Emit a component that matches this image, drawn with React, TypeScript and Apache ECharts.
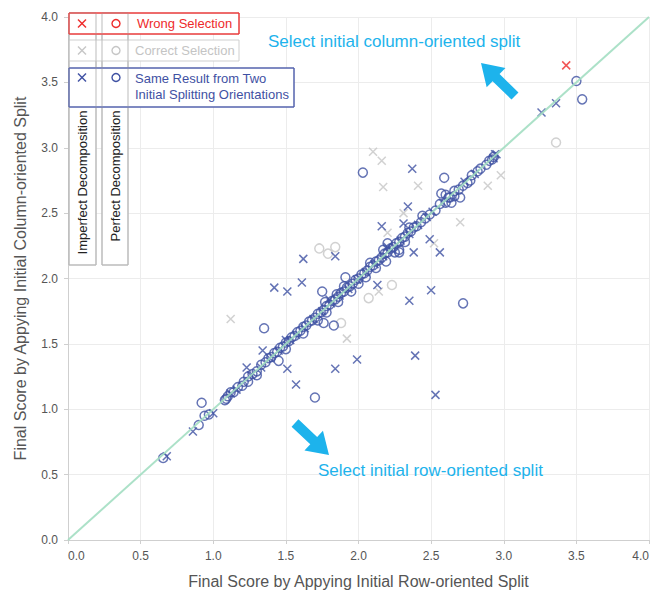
import React, { useEffect, useRef } from "react";
import * as echarts from "echarts";

// ---- Data ----
const xTicks = [0, 0.5, 1, 1.5, 2, 2.5, 3, 3.5, 4];
const diagonal = [[0, 0], [4, 4]];

// Wrong selection (red)
const wrongImperfect = [[3.43, 3.63]];
const wrongPerfect: number[][] = [];

// Correct selection (gray)
const correctImperfect = [
  [2.10, 2.97], [2.16, 2.90], [2.17, 2.70], [2.41, 2.71], [2.89, 2.71], [2.98, 2.79],
  [2.70, 2.43], [2.31, 2.50], [2.20, 2.35], [2.52, 2.27], [1.12, 1.69], [1.92, 1.54], [2.14, 1.90],
];
const correctPerfect = [
  [3.36, 3.04], [1.73, 2.23], [1.79, 2.19], [1.84, 2.24], [2.23, 1.95], [2.07, 1.85], [1.88, 1.66],
];

// Same result (blue)
const sameImperfect = [
  [3.36, 3.34], [3.26, 3.27], [2.95, 2.95], [2.93, 2.92], [2.37, 2.84], [2.34, 2.55],
  [2.31, 2.42], [2.16, 2.40], [2.49, 2.30], [2.56, 2.20], [2.38, 2.20], [1.62, 2.15],
  [1.84, 2.17], [1.42, 1.93], [1.51, 1.90], [1.61, 1.97], [2.13, 1.95], [2.50, 1.91],
  [2.35, 1.83], [1.34, 1.45], [1.23, 1.32], [1.51, 1.31], [1.57, 1.19], [1.84, 1.31],
  [1.99, 1.38], [2.39, 1.41], [2.53, 1.11],
  [1.12, 1.12], [1.16, 1.15], [1.26, 1.26], [1.33, 1.32], [1.39, 1.39], [1.45, 1.45],
  [1.53, 1.53], [1.57, 1.57], [1.63, 1.62], [1.69, 1.69], [1.75, 1.75], [1.81, 1.81],
  [1.87, 1.87], [1.93, 1.92], [1.99, 1.99], [2.05, 2.05], [2.11, 2.11], [2.17, 2.17],
  [2.23, 2.22], [2.29, 2.29], [2.35, 2.34], [2.41, 2.41], [2.47, 2.47], [2.51, 2.51],
  [2.58, 2.58], [2.73, 2.74], [2.80, 2.80], [2.94, 2.95], [1.00, 0.97], [0.86, 0.83],
  [0.68, 0.64], [1.50, 1.53], [1.80, 1.84], [2.20, 2.24],
];
const samePerfect = [
  [3.50, 3.51], [3.54, 3.37], [2.03, 2.81], [2.59, 2.77], [2.57, 2.65], [2.64, 2.58],
  [2.70, 2.62], [2.72, 1.81], [1.35, 1.62], [1.70, 1.09], [0.92, 1.05], [1.91, 2.01],
  [1.75, 1.90], [1.77, 1.82], [1.83, 1.64], [1.76, 1.66], [2.20, 2.27], [2.28, 2.22],
  [2.28, 2.20], [2.19, 2.13], [1.45, 1.37], [1.20, 1.18], [0.655, 0.627], [0.90, 0.88],
  [0.94, 0.95], [0.97, 0.96], [1.08, 1.07], [1.09, 1.08],
  [1.10, 1.10], [1.12, 1.13], [1.14, 1.13], [1.17, 1.17], [1.21, 1.21], [1.24, 1.25],
  [1.27, 1.27], [1.30, 1.29], [1.33, 1.34], [1.36, 1.36], [1.38, 1.39], [1.40, 1.40],
  [1.42, 1.43], [1.44, 1.44], [1.46, 1.47], [1.48, 1.48], [1.50, 1.51], [1.52, 1.52],
  [1.54, 1.55], [1.56, 1.56], [1.58, 1.59], [1.60, 1.60], [1.62, 1.63], [1.64, 1.64],
  [1.66, 1.67], [1.68, 1.68], [1.70, 1.70], [1.72, 1.73], [1.74, 1.74], [1.76, 1.76],
  [1.78, 1.79], [1.80, 1.80], [1.82, 1.83], [1.84, 1.84], [1.86, 1.86], [1.88, 1.89],
  [1.90, 1.90], [1.92, 1.93], [1.94, 1.94], [1.96, 1.96], [1.98, 1.99], [2.00, 2.00],
  [2.02, 2.03], [2.04, 2.04], [2.06, 2.06], [2.08, 2.09], [2.10, 2.10], [2.12, 2.13],
  [2.14, 2.14], [2.16, 2.16], [2.18, 2.19], [2.20, 2.20], [2.22, 2.23], [2.24, 2.24],
  [2.26, 2.27], [2.28, 2.28], [2.30, 2.31], [2.32, 2.32], [2.34, 2.35], [2.36, 2.36],
  [2.38, 2.39], [2.40, 2.40], [2.43, 2.43], [2.46, 2.46], [2.49, 2.49], [2.53, 2.52],
  [2.56, 2.57], [2.62, 2.62], [2.66, 2.67], [2.72, 2.71], [2.78, 2.79], [2.84, 2.84],
  [2.90, 2.90], [2.92, 2.91], [2.93, 2.93],
  [1.78, 1.74], [1.86, 1.82], [1.95, 1.90], [2.00, 1.96], [2.05, 2.01], [2.12, 2.08],
  [2.25, 2.20], [2.32, 2.28], [1.62, 1.58], [1.50, 1.46], [1.72, 1.68], [1.85, 1.88],
  [1.90, 1.94], [2.08, 2.12], [2.17, 2.22], [2.35, 2.39], [2.44, 2.48], [1.30, 1.26],
  [1.24, 1.21], [2.60, 2.58], [2.66, 2.63], [2.69, 2.68], [2.75, 2.73], [2.77, 2.75],
  [2.82, 2.82], [2.88, 2.87], [2.60, 2.64], [2.63, 2.62],
];

const BLUE = "#3f51a3";
const GRAY = "#c6c6c6";
const RED = "#ee2b2b";
const CYAN = "#1db3ec";
const CROSS = "path://M0,0L10,10M10,0L0,10";

function arrow(tail: number[], tip: number[], shaftW: number, headW: number, headL: number) {
  const dx = tip[0] - tail[0];
  const dy = tip[1] - tail[1];
  const len = Math.sqrt(dx * dx + dy * dy);
  const ux = dx / len, uy = dy / len;
  const px = -uy, py = ux;
  const bx = tip[0] - ux * headL, by = tip[1] - uy * headL;
  return [
    [tail[0] + px * shaftW / 2, tail[1] + py * shaftW / 2],
    [bx + px * shaftW / 2, by + py * shaftW / 2],
    [bx + px * headW / 2, by + py * headW / 2],
    [tip[0], tip[1]],
    [bx - px * headW / 2, by - py * headW / 2],
    [bx - px * shaftW / 2, by - py * shaftW / 2],
    [tail[0] - px * shaftW / 2, tail[1] - py * shaftW / 2],
  ];
}

const FONT = "Liberation Sans, Arial, sans-serif";

function crossMark(cx: number, cy: number, color: string) {
  const s = 4;
  return [
    { type: "line", shape: { x1: cx - s, y1: cy - s, x2: cx + s, y2: cy + s }, style: { stroke: color, lineWidth: 1.4 }, z: 110 },
    { type: "line", shape: { x1: cx + s, y1: cy - s, x2: cx - s, y2: cy + s }, style: { stroke: color, lineWidth: 1.4 }, z: 110 },
  ];
}
function circleMark(cx: number, cy: number, color: string) {
  return { type: "circle", shape: { cx, cy, r: 4 }, style: { fill: "none", stroke: color, lineWidth: 1.4 }, z: 110 };
}

export default function App() {
  const ref = useRef<HTMLDivElement>(null);
  useEffect(() => {
    document.body.style.margin = "0";
    const chart = echarts.init(ref.current!, undefined, { renderer: "svg" });

    const scatter = (name: string, data: number[][], symbol: string, color: string, size: number) => ({
      name,
      type: "scatter",
      data,
      symbol,
      symbolSize: size,
      itemStyle: { color: "rgba(255,255,255,0)", borderColor: color, borderWidth: 1.5 },
      z: 3,
    });

    const graphics: any[] = [
      { type: "rect", shape: { x: 69, y: 13, width: 27, height: 252 }, style: { fill: "#fff", stroke: "#bbb", lineWidth: 1 }, z: 100 },
      { type: "rect", shape: { x: 102, y: 13, width: 26, height: 252 }, style: { fill: "#fff", stroke: "#bbb", lineWidth: 1 }, z: 100 },
      { type: "rect", shape: { x: 69, y: 13, width: 170, height: 21 }, style: { fill: "#fff", stroke: "#e83a3a", lineWidth: 1 }, z: 101 },
      { type: "rect", shape: { x: 69, y: 40, width: 170, height: 21 }, style: { fill: "#fff", stroke: "#cfcfcf", lineWidth: 1 }, z: 101 },
      { type: "rect", shape: { x: 69, y: 68, width: 225, height: 39 }, style: { fill: "#fff", stroke: "#5563ad", lineWidth: 1 }, z: 101 },
      { type: "rect", shape: { x: 69, y: 13, width: 27, height: 252 }, style: { fill: "none", stroke: "#bbb", lineWidth: 1 }, z: 102 },
      { type: "rect", shape: { x: 102, y: 13, width: 26, height: 252 }, style: { fill: "none", stroke: "#bbb", lineWidth: 1 }, z: 102 },
      { type: "rect", shape: { x: 69, y: 13, width: 170, height: 21 }, style: { fill: "none", stroke: "#e83a3a", lineWidth: 1 }, z: 103 },
      { type: "rect", shape: { x: 69, y: 68, width: 225, height: 39 }, style: { fill: "none", stroke: "#5563ad", lineWidth: 1 }, z: 103 },
      ...crossMark(82, 23.5, RED), circleMark(116, 23.5, RED),
      ...crossMark(82, 50.5, GRAY), circleMark(116, 50.5, GRAY),
      ...crossMark(82, 77.5, BLUE), circleMark(116, 77.5, BLUE),
      { type: "text", x: 137, y: 23.5, style: { text: "Wrong Selection", fill: RED, font: `13px ${FONT}`, textVerticalAlign: "middle" }, z: 110 },
      { type: "text", x: 135, y: 50.5, style: { text: "Correct Selection", fill: "#c4c4c4", font: `13px ${FONT}`, textVerticalAlign: "middle" }, z: 110 },
      { type: "text", x: 135, y: 78, style: { text: "Same Result from Two", fill: BLUE, font: `13px ${FONT}`, textVerticalAlign: "middle" }, z: 110 },
      { type: "text", x: 135, y: 94, style: { text: "Initial Splitting Orientations", fill: BLUE, font: `13px ${FONT}`, textVerticalAlign: "middle" }, z: 110 },
      { type: "text", x: 82, y: 182.5, rotation: Math.PI / 2, style: { text: "Imperfect Decomposition", fill: "#222", font: `13px ${FONT}`, textAlign: "center", textVerticalAlign: "middle" }, z: 110 },
      { type: "text", x: 115, y: 176, rotation: Math.PI / 2, style: { text: "Perfect Decomposition", fill: "#222", font: `13px ${FONT}`, textAlign: "center", textVerticalAlign: "middle" }, z: 110 },
      { type: "text", x: 268, y: 41, style: { text: "Select initial column-oriented split", fill: CYAN, font: `17px ${FONT}`, textVerticalAlign: "middle" }, z: 110 },
      { type: "text", x: 318, y: 470, style: { text: "Select initial row-oriented split", fill: CYAN, font: `17px ${FONT}`, textVerticalAlign: "middle" }, z: 110 },
      { type: "polygon", shape: { points: arrow([515, 96], [481, 63], 10, 27, 21) }, style: { fill: CYAN }, z: 110 },
      { type: "polygon", shape: { points: arrow([295, 423], [329, 455], 10, 27, 21) }, style: { fill: CYAN }, z: 110 },
    ];

    const axisCommon = {
      type: "value",
      min: xTicks[0],
      max: xTicks[xTicks.length - 1],
      interval: 0.5,
      nameLocation: "middle",
      nameTextStyle: { color: "#555", fontSize: 16, fontFamily: FONT },
      axisLine: { show: true, lineStyle: { color: "#cfcfcf" } },
      axisTick: { show: true, length: 4, lineStyle: { color: "#cfcfcf" } },
      splitLine: { show: true, lineStyle: { color: "#ececec" } },
    };

    chart.setOption({
      animation: false,
      backgroundColor: "#fff",
      grid: { left: 68, right: 2, top: 17, bottom: 53, containLabel: false, outerBoundsMode: "none" },
      xAxis: {
        ...axisCommon,
        name: "Final Score by Appying Initial Row-oriented Split",
        nameGap: 33,
        axisLabel: {
          color: "#555", fontSize: 12, fontFamily: FONT, margin: 10,
          alignMinLabel: "left", alignMaxLabel: "right",
          formatter: (v: number) => v.toFixed(1),
        },
      },
      yAxis: {
        ...axisCommon,
        name: "Final Score by Appying Initial Column-oriented Split",
        nameGap: 40,
        axisLabel: { color: "#555", fontSize: 12, fontFamily: FONT, margin: 10, formatter: (v: number) => v.toFixed(1) },
      },
      series: [
        {
          type: "line",
          data: diagonal,
          symbol: "none",
          lineStyle: { color: "#a3dec2", width: 2, opacity: 0.9 },
          z: 5,
          silent: true,
        },
        scatter("correctImperfect", correctImperfect, CROSS, GRAY, 8),
        scatter("correctPerfect", correctPerfect, "circle", GRAY, 9),
        scatter("sameImperfect", sameImperfect, CROSS, BLUE, 8),
        scatter("samePerfect", samePerfect, "circle", BLUE, 9),
        scatter("wrongImperfect", wrongImperfect, CROSS, RED, 8),
        scatter("wrongPerfect", wrongPerfect, "circle", RED, 9),
      ],
      graphic: graphics,
    });
    return () => chart.dispose();
  }, []);
  return <div ref={ref} style={{ width: 651, height: 593 }} />;
}
